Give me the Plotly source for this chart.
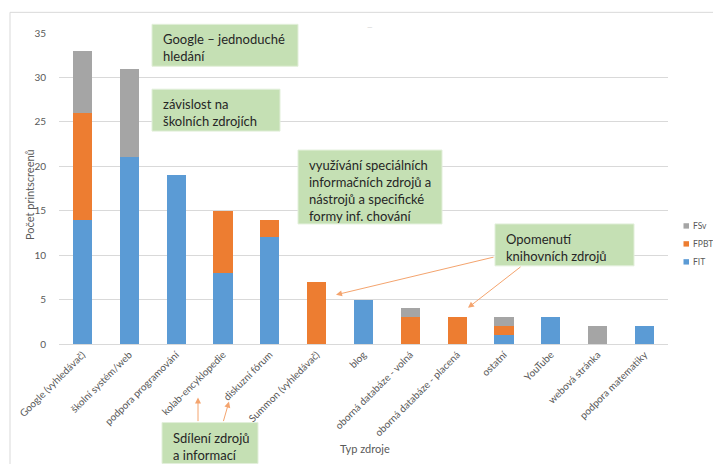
import plotly.graph_objects as go

categories = ["Google (vyhledávač)", "školní systém/web", "podpora programování",
              "kolab-encyklopedie", "diskuzní fórum", "Summon (vyhledávač)", "blog",
              "oborná databáze - volná", "oborná databáze - placená", "ostatní",
              "YouTube", "webová stránka", "podpora matematiky"]
fit = [14, 21, 19, 8, 12, 0, 5, 0, 0, 1, 3, 0, 2]
fpbt = [12, 0, 0, 7, 2, 7, 0, 3, 3, 1, 0, 0, 0]
fsv = [7, 10, 0, 0, 0, 0, 0, 1, 0, 1, 0, 2, 0]
series_names = ["FIT", "FPBT", "FSv"]

C_FIT = "#5B9BD5"
C_FPBT = "#ED7D31"
C_FSV = "#A5A5A5"

OFF = 8  # page body margin
W, H = 721 - 2 * OFF, 472 - 2 * OFF
# plot area in page pixel coordinates
PL, PR, PT, PB = 59, 668, 32.7, 344.3


def px(x):
    return (x - PL) / (PR - PL)


def py(y):
    return (PB - y) / (PB - PT)


fig = go.Figure()
for name, vals, col in zip(series_names, [fit, fpbt, fsv], [C_FIT, C_FPBT, C_FSV]):
    fig.add_trace(go.Bar(x=categories, y=vals, name=name, marker_color=col,
                         marker_line_width=0, showlegend=False))

font_main = "Lato, 'Open Sans', sans-serif"

shapes = [
    # chart frame
    dict(type="rect", xref="paper", yref="paper", x0=px(10), x1=px(740), y0=py(12), y1=py(490),
         line=dict(color="#D9D9D9", width=1), fillcolor="rgba(0,0,0,0)", layer="below"),
]

boxes = [
    (152, 298, 24, 66, "Google – jednoduché<br>hledání"),
    (152, 280, 89, 131, "závislost na<br>školních zdrojích"),
    (298, 442, 150, 224, "využívání speciálních<br>informačních zdrojů a<br>nástrojů a specifické<br>formy inf. chování"),
    (495, 634, 224, 266, "Opomenutí<br>knihovních zdrojů"),
    (162, 258, 423, 464, "Sdílení zdrojů<br>a informací"),
]

annotations = []
for x0, x1, y0, y1, txt in boxes:
    shapes.append(dict(type="rect", xref="paper", yref="paper", x0=px(x0), x1=px(x1),
                       y0=py(y1), y1=py(y0), fillcolor="#C5E0B4",
                       line=dict(color="#E2EFDA", width=1), layer="above"))
    annotations.append(dict(xref="paper", yref="paper", x=px(x0 + 9), y=py(y0 + 5),
                            xanchor="left", yanchor="top", align="left", showarrow=False,
                            text=txt, font=dict(family=font_main, size=13, color="#262626")))

arrows = [
    (336, 295, 495, 257),
    (468, 308, 522, 266),
    (198, 398, 198, 423),
    (229, 402, 223, 423),
]
for hx, hy, tx, ty in arrows:
    annotations.append(dict(xref="paper", yref="paper", x=px(hx), y=py(hy), ax=tx - hx, ay=ty - hy,
                            axref="pixel", ayref="pixel", text="", showarrow=True,
                            arrowhead=2, arrowsize=1.2, arrowwidth=1, arrowcolor="#F4A46E"))

# legend (reversed order: FSv on top)
for i, (name, col) in enumerate(zip(series_names[::-1], [C_FSV, C_FPBT, C_FIT])):
    cy = 226 + 18 * i
    shapes.append(dict(type="rect", xref="paper", yref="paper", x0=px(683.5), x1=px(689),
                       y0=py(cy + 2.7), y1=py(cy - 2.7), fillcolor=col, line=dict(width=0)))
    annotations.append(dict(xref="paper", yref="paper", x=px(691), y=py(cy), text=name,
                            showarrow=False, xanchor="left", yanchor="middle",
                            font=dict(family=font_main, size=8.5, color="#595959")))

# axis titles
annotations.append(dict(xref="paper", yref="paper", x=px(365), y=py(449), text="Typ zdroje",
                        showarrow=False, xanchor="center", yanchor="middle",
                        font=dict(family=font_main, size=11, color="#595959")))
annotations.append(dict(xref="paper", yref="paper", x=px(30), y=py(195), text="Počet printscreenů",
                        showarrow=False, textangle=-90, xanchor="center", yanchor="middle",
                        font=dict(family=font_main, size=11, color="#595959")))
# empty title placeholder mark
annotations.append(dict(xref="paper", yref="paper", x=px(370), y=py(21), text="—",
                        showarrow=False, font=dict(family=font_main, size=7, color="#D0D0D0")))

fig.update_layout(
    width=W, height=H,
    margin=dict(l=PL - OFF, r=W - (PR - OFF), t=PT - OFF, b=H - (PB - OFF), pad=0,
                autoexpand=False),
    barmode="stack", bargap=0.59,
    paper_bgcolor="white", plot_bgcolor="white",
    font=dict(family=font_main, size=10, color="#595959"),
    shapes=shapes, annotations=annotations, showlegend=False,
)
fig.update_xaxes(tickangle=-45, tickfont=dict(size=10, color="#595959"), showgrid=False,
                 showline=True, linecolor="#D9D9D9", ticks="", automargin=False)
fig.update_yaxes(range=[0, 35], dtick=5, gridcolor="#D9D9D9", showline=False, zeroline=False,
                 tickfont=dict(size=10, color="#595959"), ticks="", ticklabelstandoff=12,
                 automargin=False)

fig.write_html("out.html")
